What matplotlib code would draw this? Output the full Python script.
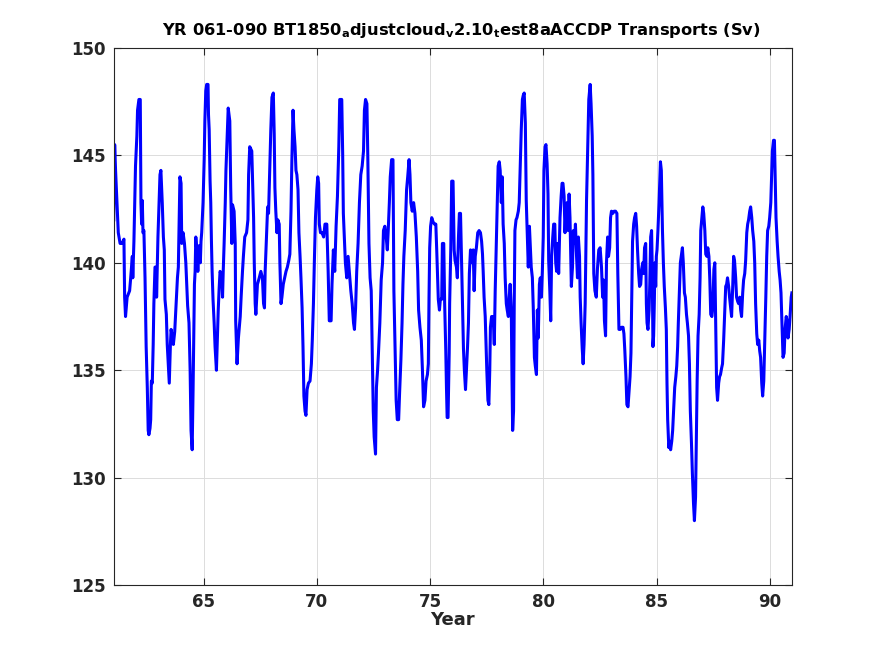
import matplotlib
matplotlib.use('Agg')
import matplotlib.pyplot as plt
import numpy as np

# monthly-ish transport series (Sv)
years = [
    61.04, 61.08, 61.12, 61.18, 61.24, 61.32, 61.41, 61.49, 61.52, 61.56,
    61.63, 61.74, 61.78, 61.86, 61.88, 61.93, 61.97, 62.00, 62.06, 62.09,
    62.15, 62.21, 62.22, 62.24, 62.27, 62.30, 62.33, 62.37, 62.42, 62.45,
    62.47, 62.52, 62.56, 62.59, 62.64, 62.67, 62.70, 62.74, 62.78, 62.81,
    62.86, 62.92, 62.93, 62.99, 63.04, 63.08, 63.12, 63.15, 63.18, 63.23,
    63.27, 63.30, 63.36, 63.40, 63.45, 63.49, 63.54, 63.57, 63.63, 63.67,
    63.73, 63.80, 63.85, 63.89, 63.92, 63.96, 64.01, 64.04, 64.10, 64.16,
    64.22, 64.26, 64.30, 64.36, 64.41, 64.45, 64.50, 64.54, 64.57, 64.60,
    64.63, 64.66, 64.70, 64.75, 64.81, 64.86, 64.89, 64.92, 64.98, 65.03,
    65.06, 65.10, 65.14, 65.20, 65.22, 65.25, 65.29, 65.32, 65.35, 65.38,
    65.42, 65.47, 65.51, 65.57, 65.60, 65.65, 65.69, 65.73, 65.81, 65.84,
    65.87, 65.91, 65.96, 65.99, 66.03, 66.09, 66.16,
    66.20, 66.25, 66.28, 66.35, 66.40, 66.42, 66.48, 66.54, 66.62, 66.66,
    66.72, 66.76, 66.82, 66.90, 66.96, 66.99, 67.04, 67.13, 67.16, 67.21,
    67.24, 67.28, 67.31, 67.38, 67.46, 67.53, 67.60, 67.65, 67.69, 67.72,
    67.78, 67.83, 67.87, 67.93, 67.97, 68.02, 68.08, 68.12, 68.15, 68.19,
    68.24, 68.28, 68.34, 68.37, 68.42, 68.46, 68.52, 68.58, 68.64, 68.70,
    68.76, 68.81, 68.86, 68.90, 68.95, 68.99, 69.04, 69.08, 69.12, 69.17,
    69.21, 69.26, 69.30, 69.35, 69.39, 69.43, 69.48, 69.52, 69.57, 69.63,
    69.70, 69.76, 69.80, 69.85, 69.89, 69.94, 70.00, 70.04, 70.08, 70.11,
    70.16, 70.23, 70.30, 70.36, 70.44, 70.47, 70.50, 70.53, 70.55, 70.63,
    70.67, 70.73, 70.79, 70.85, 70.91, 70.97, 71.01, 71.10, 71.14, 71.17,
    71.22, 71.26, 71.32, 71.38, 71.44, 71.50,
    71.56, 71.62, 71.66, 71.71, 71.76, 71.82, 71.88, 71.94, 72.00, 72.06,
    72.10, 72.15, 72.21, 72.25, 72.30, 72.35, 72.40, 72.44, 72.49, 72.53,
    72.59, 72.63, 72.68, 72.72, 72.78, 72.84, 72.90, 72.94, 73.00, 73.06,
    73.11, 73.15, 73.20, 73.24, 73.30, 73.36, 73.40, 73.45, 73.50, 73.55,
    73.61, 73.65, 73.71, 73.76, 73.80, 73.84, 73.90, 73.96, 74.01, 74.07,
    74.11, 74.15, 74.21, 74.27, 74.33, 74.39, 74.45, 74.49, 74.55, 74.61,
    74.66, 74.71, 74.77, 74.82, 74.88, 74.92, 74.95, 74.98, 75.02, 75.07,
    75.13, 75.19, 75.25, 75.29, 75.33, 75.36, 75.41, 75.45, 75.51, 75.54,
    75.60, 75.64, 75.69, 75.72, 75.75, 75.79, 75.84, 75.86, 75.91, 75.95,
    76.01, 76.06, 76.10, 76.16, 76.20, 76.25, 76.29, 76.34, 76.38, 76.43,
    76.47, 76.51, 76.56, 76.60, 76.65, 76.69, 76.73, 76.78, 76.84, 76.90,
    76.94,
    76.99, 77.04, 77.10, 77.16, 77.22, 77.27, 77.31, 77.34, 77.38, 77.43,
    77.46, 77.50, 77.55, 77.59, 77.63, 77.66, 77.71, 77.78, 77.83, 77.87,
    77.92, 77.96, 78.00, 78.05, 78.09, 78.14, 78.18, 78.22, 78.27, 78.31,
    78.36, 78.40, 78.45, 78.49, 78.53, 78.58, 78.61, 78.64, 78.68, 78.71,
    78.74, 78.79, 78.83, 78.89, 78.93, 78.98, 79.02, 79.07, 79.11, 79.15,
    79.20, 79.24, 79.29, 79.33, 79.38, 79.42, 79.46, 79.51, 79.55, 79.60,
    79.64, 79.69, 79.73, 79.77, 79.82, 79.86, 79.91, 79.95, 79.99, 80.02,
    80.07, 80.11, 80.16, 80.20, 80.23, 80.28, 80.32, 80.36, 80.41, 80.45,
    80.50, 80.54, 80.58, 80.63, 80.67, 80.70, 80.73, 80.78, 80.82, 80.86,
    80.91, 80.95, 80.99, 81.04, 81.09, 81.13, 81.17, 81.20, 81.23, 81.28,
    81.32, 81.37, 81.41, 81.46, 81.50, 81.54, 81.59, 81.62, 81.66, 81.71,
    81.75, 81.79, 81.84, 81.87, 81.90, 81.93, 81.96, 82.00, 82.06, 82.10,
    82.15, 82.18,
    82.22, 82.27, 82.33, 82.38, 82.44, 82.50, 82.56, 82.61, 82.65, 82.69,
    82.74, 82.78, 82.83, 82.87, 82.92, 82.96, 83.00, 83.06, 83.12, 83.18,
    83.24, 83.28, 83.33, 83.39, 83.45, 83.51, 83.55, 83.59, 83.64, 83.68,
    83.73, 83.77, 83.82, 83.86, 83.90, 83.93, 83.98, 84.02, 84.07, 84.11,
    84.15, 84.20, 84.24, 84.29, 84.33, 84.38, 84.42, 84.46, 84.51, 84.54,
    84.57, 84.61, 84.66, 84.69, 84.73, 84.77, 84.80, 84.83, 84.86, 84.89,
    84.92, 84.95, 84.98, 85.01, 85.05, 85.10, 85.13, 85.16, 85.20, 85.25,
    85.29, 85.33, 85.38, 85.42, 85.45, 85.48, 85.53, 85.57, 85.61, 85.66,
    85.70, 85.75, 85.79, 85.84, 85.88, 85.92, 85.95, 85.98, 86.01, 86.04,
    86.09, 86.13, 86.17, 86.22, 86.26, 86.31, 86.35, 86.40, 86.44, 86.48,
    86.53, 86.57, 86.62, 86.66, 86.71, 86.75, 86.78, 86.82, 86.87, 86.91,
    86.94, 86.99, 87.03, 87.07, 87.12, 87.16, 87.21, 87.25, 87.30, 87.34,
    87.38, 87.43, 87.47, 87.52, 87.56,
    87.61, 87.64, 87.68, 87.73, 87.77, 87.81, 87.86, 87.90, 87.95, 87.99,
    88.04, 88.08, 88.12, 88.17, 88.21, 88.26, 88.30, 88.35, 88.39, 88.43,
    88.48, 88.52, 88.57, 88.61, 88.66, 88.70, 88.74, 88.79, 88.83, 88.88,
    88.92, 88.97, 89.01, 89.05, 89.10, 89.14, 89.19, 89.23, 89.28, 89.32,
    89.36, 89.41, 89.45, 89.50, 89.54, 89.58, 89.63, 89.67, 89.72, 89.76,
    89.81, 89.85, 89.89, 89.94, 89.98, 90.03, 90.06, 90.10, 90.15, 90.19,
    90.22, 90.26, 90.31, 90.35, 90.40, 90.44, 90.48, 90.53, 90.57, 90.62,
    90.66, 90.71, 90.75, 90.79, 90.84, 90.88, 90.93, 90.96,
]

transport = [
    142.0, 145.5, 144.3, 142.8, 141.4, 140.9, 140.9, 141.1, 138.4, 137.5,
    138.4, 138.7, 139.2, 140.3, 139.3, 141.0, 143.0, 144.5, 145.9, 147.1,
    147.6, 147.6, 146.2, 142.8, 141.8, 142.9, 141.4, 141.5, 139.3, 137.5,
    136.1, 134.2, 132.2, 132.0, 132.3, 132.7, 134.5, 134.4, 136.2, 138.1,
    139.8, 139.8, 138.4, 141.2, 142.8, 144.1, 144.3, 143.5, 142.8, 141.2,
    140.6, 138.3, 137.6, 136.2, 135.2, 134.4, 136.2, 136.9, 136.5, 136.2,
    136.8, 138.3, 139.3, 139.8, 141.5, 144.0, 143.7, 140.9, 141.4, 140.9,
    140.0, 139.0, 138.0, 137.2, 135.0, 132.2, 131.3, 134.1, 136.6, 139.0,
    139.6, 141.2, 140.6, 139.6, 140.8, 140.0, 141.0, 141.4, 142.8, 144.8,
    146.6, 148.0, 148.3, 148.3, 146.9, 146.2, 143.8, 142.8, 141.0, 139.6,
    138.3, 137.2, 136.1, 135.0, 136.0, 137.8, 138.8, 139.6, 139.4, 138.4,
    139.6, 140.9, 142.8, 144.3, 145.5, 147.2, 146.6,
    143.5, 140.9, 142.7, 142.4, 140.9, 137.3, 135.3, 136.5, 137.5, 138.4,
    139.6, 140.3, 141.2, 141.4, 142.0, 144.1, 145.4, 145.2, 144.0, 142.1,
    140.0, 138.1, 137.6, 139.0, 139.3, 139.6, 139.3, 138.1, 137.9, 139.6,
    141.2, 142.6, 142.3, 144.6, 146.2, 147.7, 147.9, 146.0, 143.5, 142.4,
    141.4, 142.0, 141.8, 140.0, 138.1, 138.4, 139.0, 139.3, 139.6, 139.8,
    140.1, 140.4, 142.4, 144.8, 147.1, 146.2, 145.4, 144.3, 144.1, 143.4,
    141.4, 140.3, 139.3, 137.9, 136.1, 133.8, 133.1, 132.9, 134.1, 134.4,
    134.5, 135.3, 136.4, 138.1, 140.0, 142.1, 143.4, 144.0, 143.7, 141.8,
    141.4, 141.4, 141.2, 141.8, 141.8, 140.7, 139.6, 138.3, 137.3, 137.3,
    139.0, 140.6, 139.6, 141.7, 143.1, 145.4, 147.6, 147.6, 145.1, 142.3,
    141.0, 140.0, 139.3, 140.3, 139.5, 138.7,
    138.1, 137.2, 136.9, 137.9, 139.6, 140.9, 142.8, 144.1, 144.5, 145.2,
    147.1, 147.6, 147.4, 144.9, 140.9, 139.3, 138.7, 136.2, 133.1, 131.9,
    131.1, 134.2, 135.0, 135.8, 137.2, 139.2, 140.0, 141.5, 141.7, 141.2,
    140.6, 141.5, 142.8, 144.0, 144.8, 144.8, 138.7, 136.1, 133.6, 132.7,
    132.7, 133.9, 135.5, 137.2, 139.0, 140.3, 141.5, 143.4, 144.0, 144.8,
    144.1, 142.8, 142.4, 142.8, 142.3, 141.2, 139.6, 137.8, 137.0, 136.4,
    135.0, 133.3, 133.6, 134.5, 134.8, 135.3, 138.4, 140.7, 141.7, 142.1,
    141.9, 141.8, 141.8, 140.6, 139.2, 138.3, 137.8, 138.3, 138.3, 140.9,
    140.9, 138.1, 135.9, 134.2, 132.8, 132.8, 135.8, 138.1, 140.6, 143.8,
    143.8, 140.6, 140.1, 139.8, 139.3, 141.2, 142.3, 142.3, 140.4, 138.1,
    136.0, 135.0, 134.1, 135.0, 136.1, 137.2, 139.5, 140.6, 140.0, 140.6,
    138.7,
    140.3, 140.7, 141.4, 141.5, 141.4, 141.0, 140.4, 139.6, 138.4, 137.5,
    136.4, 135.0, 133.6, 133.4, 135.0, 137.0, 137.5, 137.5, 136.2, 138.7,
    141.0, 142.8, 144.5, 144.7, 144.3, 142.8, 144.0, 141.8, 140.9, 139.3,
    138.1, 137.8, 137.5, 138.4, 139.0, 137.8, 134.7, 132.2, 133.1, 138.1,
    141.5, 142.0, 142.1, 142.4, 142.8, 144.6, 146.2, 147.6, 147.8, 147.9,
    146.5, 142.9, 141.2, 139.8, 141.7, 140.7, 139.8, 139.3, 137.9, 135.6,
    135.2, 134.8, 137.8, 136.5, 139.0, 139.3, 138.4, 139.6, 141.2, 144.3,
    145.4, 145.5, 144.6, 143.2, 140.1, 138.7, 137.3, 140.3, 141.2, 141.8,
    141.8, 140.0, 139.6, 140.9, 139.5, 140.9, 142.1, 143.1, 143.7, 143.7,
    143.1, 141.4, 142.4, 142.8, 141.5, 143.2, 142.1, 140.6, 138.9, 139.8,
    141.5, 140.9, 141.8, 140.3, 139.3, 141.2, 140.3, 138.4, 137.2, 136.0,
    135.3, 136.2, 138.1, 140.4, 142.9, 144.3, 145.9, 147.6, 148.3, 147.4,
    145.9, 144.1,
    139.5, 138.7, 138.4, 139.7, 140.6, 140.7, 139.8, 138.4, 139.2, 137.3,
    136.6, 140.0, 141.2, 140.3, 140.7, 142.1, 142.4, 142.3, 142.4, 142.4,
    142.3, 139.5, 136.9, 136.9, 137.0, 137.0, 136.7, 135.9, 134.7, 133.4,
    133.3, 133.9, 134.7, 135.8, 138.9, 141.0, 141.8, 142.1, 142.3, 141.7,
    140.6, 139.5, 138.9, 139.0, 139.7, 140.0, 139.5, 140.7, 140.9, 138.1,
    137.2, 136.9, 137.8, 139.0, 141.2, 141.5, 139.7, 136.1, 136.6, 138.1,
    140.0, 138.9, 140.3, 140.6, 141.5, 142.8, 143.8, 144.7, 144.3, 141.5,
    140.0, 138.9, 137.9, 136.9, 134.4, 132.7, 131.4, 131.7, 131.3, 131.7,
    132.2, 133.3, 134.2, 134.7, 135.2, 136.1, 137.2, 138.1, 139.0, 140.0,
    140.4, 140.7, 140.0, 138.6, 138.4, 137.6, 137.2, 136.6, 135.3, 133.1,
    131.6, 130.2, 128.8, 128.0, 129.1, 132.2, 134.5, 136.6, 137.6, 139.3,
    141.5, 142.1, 142.6, 142.3, 141.5, 140.4, 140.3, 140.7, 140.3, 139.2,
    137.6, 137.5, 137.9, 139.7, 140.0,
    136.2, 134.2, 133.6, 134.4, 134.7, 134.8, 135.1, 135.3, 136.4, 137.5,
    138.9, 139.0, 139.3, 138.9, 138.4, 137.9, 137.5, 138.9, 140.3, 140.1,
    139.3, 138.4, 138.2, 138.1, 138.4, 137.8, 137.5, 138.6, 139.2, 139.5,
    140.1, 141.4, 141.8, 142.0, 142.4, 142.6, 142.1, 141.5, 141.0, 140.0,
    138.1, 136.7, 136.2, 136.4, 135.9, 135.6, 134.4, 133.8, 134.5, 136.2,
    138.4, 140.3, 141.5, 141.7, 142.1, 142.8, 143.8, 145.2, 145.7, 145.7,
    144.1, 142.1, 141.0, 140.3, 139.6, 139.2, 138.6, 136.9, 135.6, 135.8,
    136.9, 137.5, 137.3, 136.5, 136.9, 137.5, 138.4, 138.6,
]

x_ticks = [65, 70, 75, 80, 85, 90]
y_ticks = [125, 130, 135, 140, 145, 150]

title_txt = (r'YR 061-090 BT1850$_\mathbf{a}$djustcloud$_\mathbf{v}$2.10'
             r'$_\mathbf{t}$est8aACCDP Transports (Sv)')

plt.rcParams['font.family'] = 'DejaVu Sans'
plt.rcParams['font.weight'] = 'bold'
plt.rcParams['mathtext.fontset'] = 'dejavusans'

ink = '#262626'

fig = plt.figure(figsize=(8.75, 6.56), dpi=100)
ax = fig.add_axes([0.13, 0.108, 0.775, 0.819])

ax.plot(years, transport, color=(0, 0, 1), linewidth=2.2)

ax.set_xlim(61.04, 90.96)
ax.set_ylim(125, 150)
ax.set_xticks(x_ticks)
ax.set_yticks(y_ticks)
ax.grid(True, color='#dcdcdc', linewidth=0.7)
ax.set_axisbelow(True)

ax.tick_params(direction='in', top=True, right=True, length=5, width=0.8,
               colors=ink, labelsize=12, pad=6)
for lab in ax.get_xticklabels() + ax.get_yticklabels():
    lab.set_fontweight('bold')
for s in ax.spines.values():
    s.set_color(ink)
    s.set_linewidth(0.8)

ax.set_xlabel('Year', fontsize=13, fontweight='bold', color=ink, labelpad=0)
ax.set_title(title_txt, fontsize=11.7, fontweight='bold', color='black',
             pad=9, x=0.512)

fig.savefig('out.png', dpi=100)
